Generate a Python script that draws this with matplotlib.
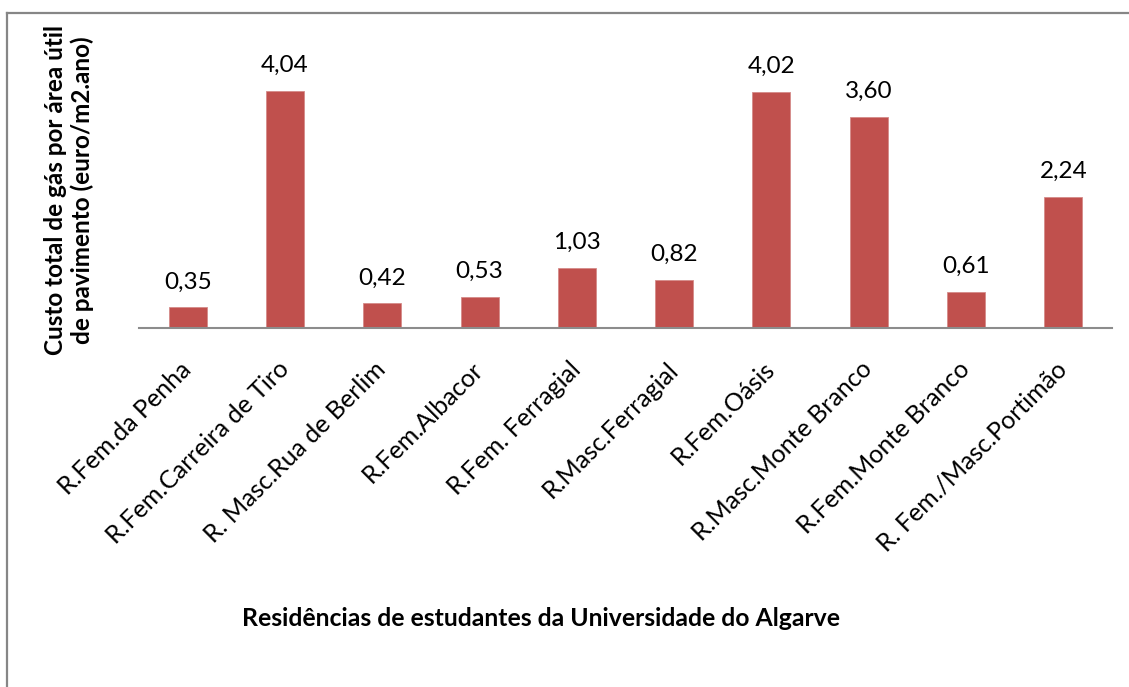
import matplotlib
matplotlib.use("Agg")
import matplotlib.pyplot as plt
from matplotlib.lines import Line2D

categories = [
    "R.Fem.da Penha",
    "R.Fem.Carreira de Tiro",
    "R. Masc.Rua de Berlim",
    "R.Fem.Albacor",
    "R.Fem. Ferragial",
    "R.Masc.Ferragial",
    "R.Fem.Oásis",
    "R.Masc.Monte Branco",
    "R.Fem.Monte Branco",
    "R. Fem./Masc.Portimão",
]
values = [0.35, 4.04, 0.42, 0.53, 1.03, 0.82, 4.02, 3.60, 0.61, 2.24]
value_labels = ["0,35", "4,04", "0,42", "0,53", "1,03", "0,82", "4,02", "3,60", "0,61", "2,24"]
y_label = "Custo total de gás por área útil\nde pavimento (euro/m2.ano)"
x_label = "Residências de estudantes da Universidade do Algarve"

plt.rcParams['font.family'] = ['Lato', 'DejaVu Sans']

W, H = 1129, 687
fig = plt.figure(figsize=(W / 100, H / 100), dpi=100)
fig.patch.set_facecolor('white')

ax = fig.add_axes([139 / W, (H - 328) / H, (1112 - 139) / W, 264 / H])
x = list(range(len(categories)))
ax.bar(x, values, width=0.39, color='#C0504D', edgecolor='#D58B89', linewidth=0.6, zorder=2)
ax.set_xlim(-0.5, len(categories) - 0.5)
ax.set_ylim(0, 4.5)

for xi, v, lab in zip(x, values, value_labels):
    ax.annotate(lab, (xi, v), xytext=(0, 19), textcoords='offset pixels',
                ha='center', va='baseline', fontsize=17.5, color='black')

for s in ['top', 'right', 'left']:
    ax.spines[s].set_visible(False)
ax.spines['bottom'].set_color('#8c8c8c')
ax.spines['bottom'].set_linewidth(1.5)
ax.set_yticks([])
ax.set_xticks(x)
ax.set_xticklabels(categories, rotation=45, ha='right', va='center',
                   rotation_mode='anchor', fontsize=18)
ax.tick_params(axis='x', length=0, pad=27)

fig.text(69 / W, 1 - 190 / H, y_label, rotation=90, ha='center', va='center',
         multialignment='center', fontsize=17.5, fontweight='bold', linespacing=1.15)
fig.text(541 / W, 1 - 619 / H, x_label, ha='center', va='center',
         fontsize=17.8, fontweight='bold')

# chart border (left and top visible)
fig.add_artist(Line2D([7 / W, 7 / W], [0, 1 - 13 / H], transform=fig.transFigure,
                      color='#868686', linewidth=1.6))
fig.add_artist(Line2D([7 / W, 1], [1 - 13 / H, 1 - 13 / H], transform=fig.transFigure,
                      color='#868686', linewidth=1.6))

fig.savefig('out.png', dpi=100, facecolor='white')
